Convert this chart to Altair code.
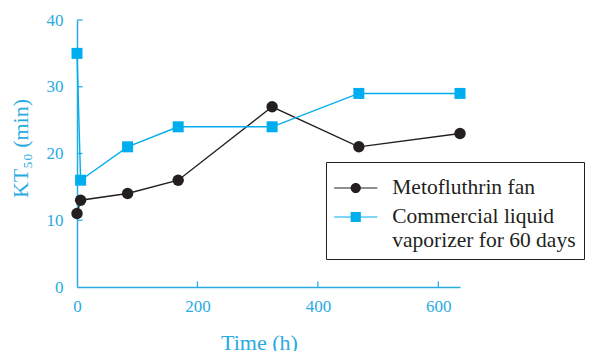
import altair as alt
import pandas as pd

# ---- data ----
hours = [0, 6, 84, 168, 324, 468, 636]
fan_kt50 = [11, 13, 14, 16, 27, 21, 23]
commercial_kt50 = [35, 16, 21, 24, 24, 29, 29]
series_names = ["Metofluthrin fan", "Commercial liquid vaporizer for 60 days"]
x_ticks = [0, 200, 400, 600]
y_ticks = [0, 10, 20, 30, 40]

rows = []
for h, v in zip(hours, fan_kt50):
    rows.append({"hours": h, "kt50": v, "series": series_names[0]})
for h, v in zip(hours, commercial_kt50):
    rows.append({"hours": h, "kt50": v, "series": series_names[1]})
df = pd.DataFrame(rows)
xtick_df = pd.DataFrame({"hours": x_ticks[1:]})
ytick_df = pd.DataFrame({"kt50": y_ticks[1:]})

CYAN = "#00aeef"
AXIS = "#29abe2"
BLACK = "#231f20"
FONT = "Liberation Serif"

W, H = 383, 267
TICK = 5.5

color_scale = alt.Scale(domain=series_names, range=[BLACK, CYAN])
x_scale = alt.Scale(domain=[0, 636], nice=False, zero=False)
y_scale = alt.Scale(domain=[0, 40], nice=False)

# legend symbols: line segment + marker (units of 18px)
seg = "M-1.2,-0.034H-0.26V0.034H-1.2Z M0.26,-0.034H1.2V0.034H0.26Z"
circle_sym = seg + " M0.283,0A0.283,0.283 0 1,1 -0.283,0A0.283,0.283 0 1,1 0.283,0Z"
square_sym = seg + " M-0.283,-0.283H0.283V0.283H-0.283Z"

legend = alt.Legend(
    orient="none", legendX=249, legendY=142, title=None,
    padding=8, strokeColor=BLACK, fillColor="white",
    symbolSize=1296, symbolStrokeWidth=0, symbolOpacity=1, symbolOffset=3.75,
    labelOffset=18.5, labelFont=FONT, labelFontSize=21.5, labelColor=BLACK,
    labelLimit=400, labelBaseline="middle", rowPadding=-5,
    labelExpr="datum.label == 'Commercial liquid vaporizer for 60 days' ? ['Commercial liquid', 'vaporizer for 60 days'] : datum.label",
)

base = alt.Chart(df)

# first layer: carries axes and legend (its own marks are invisible)
guides = base.mark_point(filled=True, opacity=0).encode(
    x=alt.X("hours:Q", scale=x_scale, axis=alt.Axis(
        values=x_ticks, ticks=False, grid=False, domainColor=AXIS, domainWidth=1.5,
        labelColor=AXIS, labelFont=FONT, labelFontSize=17, labelPadding=11, labelFlush=False,
        title="Time (h)", titleFont=FONT, titleFontSize=22, titleFontWeight="normal",
        titleColor=AXIS, titleX=182, titleY=62, titleBaseline="alphabetic")),
    y=alt.Y("kt50:Q", scale=y_scale, axis=alt.Axis(
        values=y_ticks, ticks=False, grid=False, domainColor=AXIS, domainWidth=1.5,
        labelColor=AXIS, labelFont=FONT, labelFontSize=17, labelPadding=14, labelFlush=False,
        title="KT₅₀ (min)", titleFont=FONT, titleFontSize=22, titleFontWeight="normal",
        titleColor=AXIS, titleX=-57, titleY=128, titleAngle=-90,
        titleBaseline="middle", titleAlign="center")),
    color=alt.Color("series:N", scale=color_scale, legend=legend),
    shape=alt.Shape("series:N", scale=alt.Scale(domain=series_names, range=[circle_sym, square_sym]), legend=legend),
)

xticks = alt.Chart(xtick_df).mark_rule(color=AXIS, strokeWidth=1.3).encode(
    x=alt.X("hours:Q", scale=x_scale),
    y=alt.value(H), y2=alt.value(H - TICK),
)
yticks = alt.Chart(ytick_df).mark_rule(color=AXIS, strokeWidth=1.3).encode(
    y=alt.Y("kt50:Q", scale=y_scale),
    x=alt.value(0), x2=alt.value(TICK),
)

lines = base.mark_line(strokeWidth=1.4).encode(
    x=alt.X("hours:Q", scale=x_scale),
    y=alt.Y("kt50:Q", scale=y_scale),
    color=alt.Color("series:N", scale=color_scale, legend=None),
    detail="series:N",
    order="hours:Q",
)

circles = base.mark_point(filled=True, shape="circle", size=130, opacity=1).encode(
    x=alt.X("hours:Q", scale=x_scale),
    y=alt.Y("kt50:Q", scale=y_scale),
    color=alt.Color("series:N", scale=color_scale, legend=None),
).transform_filter(alt.datum.series == series_names[0])

squares = base.mark_point(filled=True, shape="square", size=121, opacity=1).encode(
    x=alt.X("hours:Q", scale=x_scale),
    y=alt.Y("kt50:Q", scale=y_scale),
    color=alt.Color("series:N", scale=color_scale, legend=None),
).transform_filter(alt.datum.series == series_names[1])

chart = alt.layer(guides, xticks, yticks, lines, squares, circles).properties(
    width=W, height=H,
    autosize=alt.AutoSizeParams(type="none"),
    padding={"left": 69, "top": 12, "right": 126, "bottom": 70},
    background="white",
).configure_view(stroke=None)

chart.save("out.html", embed_options={"renderer": "svg", "actions": False})
